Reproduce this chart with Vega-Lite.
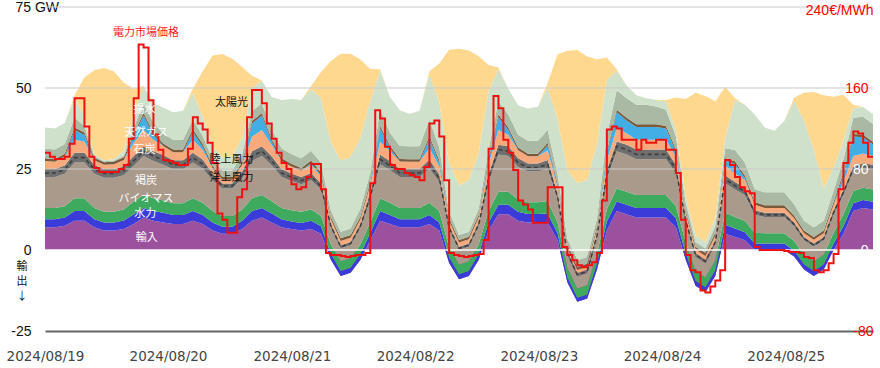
{
"$schema": "https://vega.github.io/schema/vega-lite/v6.json",
"width": 828, "height": 324,
"autosize": {"type": "none"},
"padding": {"left": 45, "top": 7, "right": 7, "bottom": 37},
"background": "white",
"config": {"view": {"stroke": null}, "font": "Liberation Sans"},
"datasets": {
"gen": [
{"t":"2024-08-19T00:00","imp":7,"hyd":2.5,"bio":3.5,"lig":9.5,"coal":2.5,"gas":2.5,"pump":0,"oth":0.8,"off":3,"on":6.5,"sol":0},
{"t":"2024-08-19T02:00","imp":7,"hyd":2.5,"bio":3.5,"lig":9.5,"coal":2.5,"gas":2.2,"pump":0,"oth":0.8,"off":3,"on":6.5,"sol":0},
{"t":"2024-08-19T04:00","imp":7.5,"hyd":2.5,"bio":3.5,"lig":10,"coal":2.6,"gas":2.5,"pump":0.3,"oth":0.8,"off":3,"on":6.5,"sol":0},
{"t":"2024-08-19T06:00","imp":9,"hyd":3,"bio":4,"lig":11,"coal":3,"gas":4,"pump":3,"oth":0.8,"off":3,"on":6,"sol":1},
{"t":"2024-08-19T08:00","imp":9,"hyd":3,"bio":4,"lig":11,"coal":3,"gas":3.5,"pump":2,"oth":0.8,"off":2,"on":3,"sol":12},
{"t":"2024-08-19T10:00","imp":7,"hyd":2.5,"bio":3.5,"lig":10.5,"coal":2.7,"gas":1.5,"pump":0,"oth":0.8,"off":0.5,"on":0.5,"sol":26},
{"t":"2024-08-19T12:00","imp":6,"hyd":2.5,"bio":3.3,"lig":10.5,"coal":2.7,"gas":1.3,"pump":0,"oth":0.8,"off":0.3,"on":0.3,"sol":28.5},
{"t":"2024-08-19T14:00","imp":6,"hyd":2.5,"bio":3.3,"lig":10.5,"coal":2.7,"gas":1.5,"pump":0,"oth":0.8,"off":0.3,"on":0.5,"sol":27},
{"t":"2024-08-19T16:00","imp":6.5,"hyd":2.6,"bio":3.5,"lig":10.5,"coal":2.7,"gas":2,"pump":0,"oth":0.8,"off":0.5,"on":1.5,"sol":21},
{"t":"2024-08-19T18:00","imp":8,"hyd":3,"bio":4,"lig":11,"coal":3,"gas":4,"pump":2,"oth":0.8,"off":2,"on":4,"sol":8},
{"t":"2024-08-19T20:00","imp":10,"hyd":3,"bio":4,"lig":12,"coal":3,"gas":5,"pump":4.5,"oth":0.8,"off":3,"on":5,"sol":0.3},
{"t":"2024-08-19T22:00","imp":9,"hyd":3,"bio":4,"lig":11.5,"coal":3,"gas":3.5,"pump":1.5,"oth":0.8,"off":3,"on":6,"sol":0},
{"t":"2024-08-20T00:00","imp":8.5,"hyd":3,"bio":3.8,"lig":11,"coal":3,"gas":2.8,"pump":0,"oth":0.8,"off":3,"on":8,"sol":0},
{"t":"2024-08-20T02:00","imp":8,"hyd":2.8,"bio":3.6,"lig":10.5,"coal":2.8,"gas":2.5,"pump":0,"oth":0.8,"off":3,"on":8.5,"sol":0},
{"t":"2024-08-20T04:00","imp":8,"hyd":2.8,"bio":3.6,"lig":10.5,"coal":2.8,"gas":2.5,"pump":0,"oth":0.8,"off":3,"on":9,"sol":0},
{"t":"2024-08-20T06:00","imp":9,"hyd":3,"bio":4,"lig":11,"coal":3,"gas":4,"pump":2.5,"oth":0.8,"off":3,"on":8,"sol":1.5},
{"t":"2024-08-20T08:00","imp":8,"hyd":2.8,"bio":3.8,"lig":10.5,"coal":2.8,"gas":3,"pump":1,"oth":0.8,"off":2.5,"on":6,"sol":14},
{"t":"2024-08-20T10:00","imp":6,"hyd":2.5,"bio":3.5,"lig":9.5,"coal":2.2,"gas":1.5,"pump":0,"oth":0.8,"off":2,"on":4,"sol":28},
{"t":"2024-08-20T12:00","imp":5,"hyd":2.2,"bio":3.3,"lig":8.5,"coal":1.5,"gas":1.2,"pump":0,"oth":0.8,"off":2,"on":4,"sol":32},
{"t":"2024-08-20T14:00","imp":5,"hyd":2.2,"bio":3.3,"lig":8.5,"coal":1.5,"gas":1.2,"pump":0,"oth":0.8,"off":2,"on":4.5,"sol":30},
{"t":"2024-08-20T16:00","imp":6.5,"hyd":2.5,"bio":3.5,"lig":9.5,"coal":2.2,"gas":2,"pump":0,"oth":0.8,"off":2.5,"on":5,"sol":22},
{"t":"2024-08-20T18:00","imp":9,"hyd":3,"bio":4,"lig":11.5,"coal":3,"gas":4.5,"pump":4,"oth":0.8,"off":3,"on":7,"sol":4},
{"t":"2024-08-20T20:00","imp":10,"hyd":3,"bio":4,"lig":12,"coal":3,"gas":5,"pump":4.5,"oth":0.8,"off":3,"on":7,"sol":0},
{"t":"2024-08-20T22:00","imp":8.5,"hyd":2.8,"bio":3.8,"lig":11,"coal":2.8,"gas":3.5,"pump":1,"oth":0.8,"off":3,"on":10,"sol":0},
{"t":"2024-08-21T00:00","imp":7,"hyd":2.5,"bio":3.5,"lig":9.5,"coal":2.5,"gas":2.5,"pump":0,"oth":0.8,"off":3,"on":15,"sol":0},
{"t":"2024-08-21T02:00","imp":6.5,"hyd":2.3,"bio":3.5,"lig":9,"coal":2.3,"gas":2.2,"pump":0,"oth":0.8,"off":3,"on":17,"sol":0},
{"t":"2024-08-21T04:00","imp":6,"hyd":2.3,"bio":3.5,"lig":8.5,"coal":2.2,"gas":2,"pump":0,"oth":0.8,"off":3,"on":18,"sol":0},
{"t":"2024-08-21T06:00","imp":6.5,"hyd":2.5,"bio":3.5,"lig":9,"coal":2.3,"gas":2.5,"pump":0.5,"oth":0.8,"off":3,"on":19,"sol":1},
{"t":"2024-08-21T08:00","imp":5,"hyd":2.3,"bio":3.3,"lig":8,"coal":2,"gas":2,"pump":0.5,"oth":0.8,"off":3,"on":20,"sol":8},
{"t":"2024-08-21T10:00","imp":-3,"hyd":1.8,"bio":3,"lig":5,"coal":1.2,"gas":1.5,"pump":0,"oth":0.8,"off":2,"on":21,"sol":25},
{"t":"2024-08-21T12:00","imp":-8,"hyd":1.5,"bio":3,"lig":4,"coal":1,"gas":1.3,"pump":0,"oth":0.8,"off":2,"on":22,"sol":33},
{"t":"2024-08-21T14:00","imp":-7,"hyd":1.5,"bio":3,"lig":4,"coal":1,"gas":1.3,"pump":0,"oth":0.8,"off":2,"on":22,"sol":32},
{"t":"2024-08-21T16:00","imp":-3,"hyd":1.8,"bio":3,"lig":5,"coal":1.2,"gas":1.5,"pump":0,"oth":0.8,"off":2.5,"on":22,"sol":24},
{"t":"2024-08-21T18:00","imp":3,"hyd":2.3,"bio":3.3,"lig":7,"coal":2,"gas":2.5,"pump":0,"oth":0.8,"off":3,"on":22,"sol":10},
{"t":"2024-08-21T20:00","imp":9,"hyd":3,"bio":4,"lig":10.5,"coal":3,"gas":4,"pump":4,"oth":0.8,"off":5,"on":12,"sol":0.5},
{"t":"2024-08-21T22:00","imp":8,"hyd":2.8,"bio":3.8,"lig":10,"coal":2.8,"gas":3,"pump":1,"oth":0.8,"off":4,"on":11,"sol":0},
{"t":"2024-08-22T00:00","imp":7,"hyd":2.5,"bio":3.5,"lig":9.5,"coal":2.5,"gas":2.3,"pump":0,"oth":0.8,"off":4,"on":11,"sol":0},
{"t":"2024-08-22T02:00","imp":7,"hyd":2.5,"bio":3.5,"lig":9.5,"coal":2.5,"gas":2.2,"pump":0,"oth":0.8,"off":4,"on":10,"sol":0},
{"t":"2024-08-22T04:00","imp":7,"hyd":2.5,"bio":3.5,"lig":9.5,"coal":2.5,"gas":2.2,"pump":0,"oth":0.8,"off":4,"on":11,"sol":0},
{"t":"2024-08-22T06:00","imp":8,"hyd":2.8,"bio":3.8,"lig":10.5,"coal":2.8,"gas":3.5,"pump":3,"oth":0.8,"off":5,"on":14,"sol":1},
{"t":"2024-08-22T08:00","imp":6,"hyd":2.5,"bio":3.5,"lig":9,"coal":2.3,"gas":2.5,"pump":1,"oth":0.8,"off":4,"on":14,"sol":12},
{"t":"2024-08-22T10:00","imp":-4,"hyd":1.8,"bio":3,"lig":5.5,"coal":1.2,"gas":1.5,"pump":0,"oth":0.8,"off":2,"on":15,"sol":35},
{"t":"2024-08-22T12:00","imp":-9,"hyd":1.5,"bio":3,"lig":4.5,"coal":1,"gas":1.3,"pump":0,"oth":0.8,"off":1.5,"on":15.5,"sol":42},
{"t":"2024-08-22T14:00","imp":-8,"hyd":1.5,"bio":3,"lig":4.5,"coal":1,"gas":1.3,"pump":0,"oth":0.8,"off":1.5,"on":16,"sol":40},
{"t":"2024-08-22T16:00","imp":-3,"hyd":1.8,"bio":3,"lig":5.5,"coal":1.2,"gas":1.5,"pump":0,"oth":0.8,"off":2,"on":17,"sol":30},
{"t":"2024-08-22T18:00","imp":6,"hyd":2.5,"bio":3.5,"lig":9,"coal":2.3,"gas":3,"pump":1,"oth":0.8,"off":3,"on":18,"sol":8},
{"t":"2024-08-22T20:00","imp":11,"hyd":3,"bio":4,"lig":11.5,"coal":3,"gas":4.5,"pump":4,"oth":0.8,"off":4,"on":10,"sol":0.5},
{"t":"2024-08-22T22:00","imp":11,"hyd":3,"bio":4,"lig":11,"coal":3,"gas":3.5,"pump":1.5,"oth":0.8,"off":4,"on":8,"sol":0},
{"t":"2024-08-23T00:00","imp":9,"hyd":2.8,"bio":3.8,"lig":10,"coal":2.7,"gas":2.5,"pump":0,"oth":0.8,"off":4,"on":9,"sol":0},
{"t":"2024-08-23T02:00","imp":8.5,"hyd":2.6,"bio":3.6,"lig":9.5,"coal":2.5,"gas":2.2,"pump":0,"oth":0.8,"off":4,"on":10,"sol":0},
{"t":"2024-08-23T04:00","imp":8.5,"hyd":2.6,"bio":3.6,"lig":9.5,"coal":2.5,"gas":2.2,"pump":0,"oth":0.8,"off":4,"on":10.5,"sol":0},
{"t":"2024-08-23T06:00","imp":8.5,"hyd":2.8,"bio":3.8,"lig":10,"coal":2.7,"gas":3,"pump":1.5,"oth":0.8,"off":4,"on":13,"sol":1.5},
{"t":"2024-08-23T08:00","imp":3,"hyd":2.2,"bio":3.3,"lig":7,"coal":1.8,"gas":2,"pump":0.3,"oth":0.8,"off":3,"on":17,"sol":20},
{"t":"2024-08-23T10:00","imp":-10,"hyd":1.5,"bio":3,"lig":4,"coal":1,"gas":1.2,"pump":0,"oth":0.8,"off":2,"on":21,"sol":37},
{"t":"2024-08-23T12:00","imp":-16,"hyd":1.3,"bio":2.8,"lig":3.8,"coal":1,"gas":1,"pump":0,"oth":0.8,"off":2,"on":24,"sol":41},
{"t":"2024-08-23T14:00","imp":-15,"hyd":1.3,"bio":2.8,"lig":3.8,"coal":1,"gas":1,"pump":0,"oth":0.8,"off":2,"on":24,"sol":38},
{"t":"2024-08-23T16:00","imp":-6,"hyd":1.8,"bio":3,"lig":5,"coal":1.2,"gas":1.5,"pump":0,"oth":0.8,"off":2.5,"on":23,"sol":26},
{"t":"2024-08-23T18:00","imp":6,"hyd":2.8,"bio":3.8,"lig":9.5,"coal":2.5,"gas":3,"pump":2,"oth":0.8,"off":5,"on":17,"sol":7},
{"t":"2024-08-23T20:00","imp":12,"hyd":3,"bio":4,"lig":11.5,"coal":3,"gas":4,"pump":5,"oth":0.8,"off":6,"on":6,"sol":0.5},
{"t":"2024-08-23T22:00","imp":11,"hyd":3,"bio":4,"lig":11.5,"coal":3,"gas":3.5,"pump":4,"oth":0.8,"off":6,"on":4,"sol":0},
{"t":"2024-08-24T00:00","imp":10,"hyd":3,"bio":4,"lig":11,"coal":3,"gas":3,"pump":4,"oth":0.8,"off":6,"on":3,"sol":0},
{"t":"2024-08-24T02:00","imp":10,"hyd":3,"bio":4,"lig":11,"coal":3,"gas":3,"pump":4,"oth":0.8,"off":6,"on":2,"sol":0},
{"t":"2024-08-24T04:00","imp":10,"hyd":3,"bio":4,"lig":11,"coal":3,"gas":3,"pump":4,"oth":0.8,"off":5.5,"on":2,"sol":0},
{"t":"2024-08-24T06:00","imp":10,"hyd":3,"bio":4,"lig":11,"coal":3,"gas":3,"pump":3.5,"oth":0.8,"off":5,"on":2.5,"sol":0.5},
{"t":"2024-08-24T08:00","imp":7,"hyd":2.8,"bio":3.8,"lig":10,"coal":2.7,"gas":2.5,"pump":1.5,"oth":0.8,"off":4,"on":2,"sol":10},
{"t":"2024-08-24T10:00","imp":-3,"hyd":2,"bio":3.3,"lig":6,"coal":1.5,"gas":1.5,"pump":0,"oth":0.8,"off":2.5,"on":2,"sol":30},
{"t":"2024-08-24T12:00","imp":-11,"hyd":1.5,"bio":3,"lig":4.5,"coal":1,"gas":1.2,"pump":0,"oth":0.8,"off":1.5,"on":2,"sol":44},
{"t":"2024-08-24T14:00","imp":-13,"hyd":1.5,"bio":3,"lig":4.5,"coal":1,"gas":1.2,"pump":0,"oth":0.8,"off":1.5,"on":2,"sol":45},
{"t":"2024-08-24T16:00","imp":-8,"hyd":1.8,"bio":3,"lig":5,"coal":1.2,"gas":1.5,"pump":0,"oth":0.8,"off":2,"on":2.5,"sol":36},
{"t":"2024-08-24T18:00","imp":5,"hyd":2.8,"bio":3.8,"lig":9,"coal":2.5,"gas":3,"pump":1.5,"oth":0.8,"off":3,"on":3,"sol":16},
{"t":"2024-08-24T20:00","imp":4,"hyd":2.6,"bio":3.6,"lig":8.5,"coal":2.3,"gas":2.6,"pump":3,"oth":0.8,"off":3.5,"on":15.5,"sol":0.5},
{"t":"2024-08-24T22:00","imp":3,"hyd":2.5,"bio":3.5,"lig":8,"coal":2.2,"gas":2.5,"pump":0.5,"oth":0.8,"off":4,"on":17.8,"sol":0},
{"t":"2024-08-25T00:00","imp":0,"hyd":2,"bio":3.3,"lig":5.5,"coal":1.5,"gas":1.7,"pump":0,"oth":0.8,"off":4,"on":23,"sol":0},
{"t":"2024-08-25T02:00","imp":0,"hyd":2,"bio":3.2,"lig":5,"coal":1.3,"gas":1.5,"pump":0,"oth":0.8,"off":4,"on":20,"sol":0},
{"t":"2024-08-25T04:00","imp":0,"hyd":2,"bio":3.2,"lig":5,"coal":1.3,"gas":1.5,"pump":0,"oth":0.8,"off":4,"on":19,"sol":0},
{"t":"2024-08-25T06:00","imp":0,"hyd":2,"bio":3.2,"lig":5,"coal":1.3,"gas":1.5,"pump":0,"oth":0.8,"off":4,"on":22,"sol":0},
{"t":"2024-08-25T08:00","imp":-2,"hyd":1.8,"bio":3,"lig":4.5,"coal":1.2,"gas":1.3,"pump":0,"oth":0.8,"off":3.5,"on":32,"sol":1},
{"t":"2024-08-25T10:00","imp":-6,"hyd":1.5,"bio":3,"lig":4.5,"coal":1,"gas":1.2,"pump":0,"oth":0.8,"off":3,"on":31,"sol":8.5},
{"t":"2024-08-25T12:00","imp":-8,"hyd":1.5,"bio":3,"lig":4.5,"coal":1,"gas":1.2,"pump":0,"oth":0.8,"off":3,"on":24,"sol":17.8},
{"t":"2024-08-25T14:00","imp":-6,"hyd":1.5,"bio":3,"lig":4.5,"coal":1,"gas":1.2,"pump":0,"oth":0.8,"off":3,"on":10,"sol":28.8},
{"t":"2024-08-25T16:00","imp":0,"hyd":2,"bio":3.3,"lig":5.5,"coal":1.5,"gas":1.7,"pump":0,"oth":0.8,"off":3.5,"on":7,"sol":22},
{"t":"2024-08-25T18:00","imp":5,"hyd":2.3,"bio":3.7,"lig":6,"coal":1.6,"gas":2.5,"pump":2,"oth":0.8,"off":4,"on":6,"sol":14},
{"t":"2024-08-25T20:00","imp":12,"hyd":2.4,"bio":3.8,"lig":6,"coal":1.6,"gas":3.2,"pump":6,"oth":0.8,"off":5,"on":3,"sol":1},
{"t":"2024-08-25T22:00","imp":13,"hyd":2.4,"bio":3.8,"lig":6,"coal":1.6,"gas":3,"pump":5,"oth":0.8,"off":5.5,"on":3,"sol":0},
{"t":"2024-08-26T00:00","imp":12.5,"hyd":2.4,"bio":3.8,"lig":6,"coal":1.6,"gas":2.8,"pump":3.5,"oth":0.8,"off":5.5,"on":3,"sol":0}
],
"price": [
{"t":"2024-08-19T00:00","p":96},{"t":"2024-08-19T01:00","p":92},{"t":"2024-08-19T02:00","p":90},{"t":"2024-08-19T03:00","p":90},{"t":"2024-08-19T04:00","p":92},{"t":"2024-08-19T05:00","p":105},{"t":"2024-08-19T06:00","p":150},{"t":"2024-08-19T07:00","p":150},{"t":"2024-08-19T08:00","p":122},{"t":"2024-08-19T09:00","p":92},{"t":"2024-08-19T10:00","p":81},{"t":"2024-08-19T11:00","p":77},{"t":"2024-08-19T12:00","p":77},{"t":"2024-08-19T13:00","p":77},{"t":"2024-08-19T14:00","p":77},{"t":"2024-08-19T15:00","p":80},{"t":"2024-08-19T16:00","p":84},{"t":"2024-08-19T17:00","p":110},{"t":"2024-08-19T18:00","p":150},{"t":"2024-08-19T19:00","p":203},{"t":"2024-08-19T20:00","p":200},{"t":"2024-08-19T21:00","p":148},{"t":"2024-08-19T22:00","p":114},{"t":"2024-08-19T23:00","p":99},
{"t":"2024-08-20T00:00","p":89},{"t":"2024-08-20T01:00","p":88},{"t":"2024-08-20T02:00","p":86},{"t":"2024-08-20T03:00","p":84},{"t":"2024-08-20T04:00","p":84},{"t":"2024-08-20T05:00","p":100},{"t":"2024-08-20T06:00","p":131},{"t":"2024-08-20T07:00","p":125},{"t":"2024-08-20T08:00","p":119},{"t":"2024-08-20T09:00","p":106},{"t":"2024-08-20T10:00","p":86},{"t":"2024-08-20T11:00","p":36},{"t":"2024-08-20T12:00","p":30},{"t":"2024-08-20T13:00","p":17},{"t":"2024-08-20T14:00","p":17},{"t":"2024-08-20T15:00","p":52},{"t":"2024-08-20T16:00","p":60},{"t":"2024-08-20T17:00","p":131},{"t":"2024-08-20T18:00","p":158},{"t":"2024-08-20T19:00","p":158},{"t":"2024-08-20T20:00","p":145},{"t":"2024-08-20T21:00","p":125},{"t":"2024-08-20T22:00","p":110},{"t":"2024-08-20T23:00","p":96},
{"t":"2024-08-21T00:00","p":86},{"t":"2024-08-21T01:00","p":80},{"t":"2024-08-21T02:00","p":65},{"t":"2024-08-21T03:00","p":60},{"t":"2024-08-21T04:00","p":62},{"t":"2024-08-21T05:00","p":72},{"t":"2024-08-21T06:00","p":85},{"t":"2024-08-21T07:00","p":85},{"t":"2024-08-21T08:00","p":60},{"t":"2024-08-21T09:00","p":-3},{"t":"2024-08-21T10:00","p":-5},{"t":"2024-08-21T11:00","p":-5},{"t":"2024-08-21T12:00","p":-6},{"t":"2024-08-21T13:00","p":-7},{"t":"2024-08-21T14:00","p":-6},{"t":"2024-08-21T15:00","p":-5},{"t":"2024-08-21T16:00","p":-5},{"t":"2024-08-21T17:00","p":-3},{"t":"2024-08-21T18:00","p":66},{"t":"2024-08-21T19:00","p":138},{"t":"2024-08-21T20:00","p":130},{"t":"2024-08-21T21:00","p":102},{"t":"2024-08-21T22:00","p":84},{"t":"2024-08-21T23:00","p":80},
{"t":"2024-08-22T00:00","p":80},{"t":"2024-08-22T01:00","p":76},{"t":"2024-08-22T02:00","p":74},{"t":"2024-08-22T03:00","p":72},{"t":"2024-08-22T04:00","p":69},{"t":"2024-08-22T05:00","p":82},{"t":"2024-08-22T06:00","p":125},{"t":"2024-08-22T07:00","p":128},{"t":"2024-08-22T08:00","p":112},{"t":"2024-08-22T09:00","p":69},{"t":"2024-08-22T10:00","p":-3},{"t":"2024-08-22T11:00","p":-5},{"t":"2024-08-22T12:00","p":-6},{"t":"2024-08-22T13:00","p":-7},{"t":"2024-08-22T14:00","p":-6},{"t":"2024-08-22T15:00","p":-5},{"t":"2024-08-22T16:00","p":-4},{"t":"2024-08-22T17:00","p":10},{"t":"2024-08-22T18:00","p":100},{"t":"2024-08-22T19:00","p":152},{"t":"2024-08-22T20:00","p":140},{"t":"2024-08-22T21:00","p":109},{"t":"2024-08-22T22:00","p":96},{"t":"2024-08-22T23:00","p":79},
{"t":"2024-08-23T00:00","p":49},{"t":"2024-08-23T01:00","p":45},{"t":"2024-08-23T02:00","p":40},{"t":"2024-08-23T03:00","p":27},{"t":"2024-08-23T04:00","p":27},{"t":"2024-08-23T05:00","p":27},{"t":"2024-08-23T06:00","p":62},{"t":"2024-08-23T07:00","p":62},{"t":"2024-08-23T08:00","p":62},{"t":"2024-08-23T09:00","p":3},{"t":"2024-08-23T10:00","p":-5},{"t":"2024-08-23T11:00","p":-10},{"t":"2024-08-23T12:00","p":-15},{"t":"2024-08-23T13:00","p":-17},{"t":"2024-08-23T14:00","p":-15},{"t":"2024-08-23T15:00","p":-12},{"t":"2024-08-23T16:00","p":-3},{"t":"2024-08-23T17:00","p":49},{"t":"2024-08-23T18:00","p":119},{"t":"2024-08-23T19:00","p":122},{"t":"2024-08-23T20:00","p":120},{"t":"2024-08-23T21:00","p":109},{"t":"2024-08-23T22:00","p":109},{"t":"2024-08-23T23:00","p":109},
{"t":"2024-08-24T00:00","p":99},{"t":"2024-08-24T01:00","p":109},{"t":"2024-08-24T02:00","p":106},{"t":"2024-08-24T03:00","p":106},{"t":"2024-08-24T04:00","p":109},{"t":"2024-08-24T05:00","p":109},{"t":"2024-08-24T06:00","p":99},{"t":"2024-08-24T07:00","p":99},{"t":"2024-08-24T08:00","p":76},{"t":"2024-08-24T09:00","p":30},{"t":"2024-08-24T10:00","p":-5},{"t":"2024-08-24T11:00","p":-20},{"t":"2024-08-24T12:00","p":-22},{"t":"2024-08-24T13:00","p":-40},{"t":"2024-08-24T14:00","p":-42},{"t":"2024-08-24T15:00","p":-36},{"t":"2024-08-24T16:00","p":-30},{"t":"2024-08-24T17:00","p":-20},{"t":"2024-08-24T18:00","p":89},{"t":"2024-08-24T19:00","p":84},{"t":"2024-08-24T20:00","p":72},{"t":"2024-08-24T21:00","p":62},{"t":"2024-08-24T22:00","p":58},{"t":"2024-08-24T23:00","p":56},
{"t":"2024-08-25T00:00","p":3},{"t":"2024-08-25T01:00","p":0},{"t":"2024-08-25T02:00","p":0},{"t":"2024-08-25T03:00","p":0},{"t":"2024-08-25T04:00","p":0},{"t":"2024-08-25T05:00","p":0},{"t":"2024-08-25T06:00","p":-1},{"t":"2024-08-25T07:00","p":-2},{"t":"2024-08-25T08:00","p":-2},{"t":"2024-08-25T09:00","p":-3},{"t":"2024-08-25T10:00","p":-7},{"t":"2024-08-25T11:00","p":-8},{"t":"2024-08-25T12:00","p":-20},{"t":"2024-08-25T13:00","p":-22},{"t":"2024-08-25T14:00","p":-20},{"t":"2024-08-25T15:00","p":-13},{"t":"2024-08-25T16:00","p":-4},{"t":"2024-08-25T17:00","p":60},{"t":"2024-08-25T18:00","p":86},{"t":"2024-08-25T19:00","p":106},{"t":"2024-08-25T20:00","p":117},{"t":"2024-08-25T21:00","p":115},{"t":"2024-08-25T22:00","p":106},{"t":"2024-08-25T23:00","p":92},{"t":"2024-08-26T00:00","p":92}
],
"labels": [
{"txt":"電力市場価格","t":"2024-08-19T20:30","y":67},
{"txt":"太陽光","t":"2024-08-20T13:50","y":45.4},
{"txt":"陸上風力","t":"2024-08-20T13:50","y":27.8},
{"txt":"洋上風力","t":"2024-08-20T13:50","y":22.2},
{"txt":"揚水","t":"2024-08-19T20:10","y":43.2},
{"txt":"天然ガス","t":"2024-08-19T20:30","y":36.1},
{"txt":"石炭","t":"2024-08-19T20:10","y":30.9},
{"txt":"褐炭","t":"2024-08-19T20:30","y":21.3},
{"txt":"バイオマス","t":"2024-08-19T20:30","y":15.8},
{"txt":"水力","t":"2024-08-19T20:20","y":11.0},
{"txt":"輸入","t":"2024-08-19T20:40","y":3.7}
]
},
"layer": [
{
"data": {"name": "gen"},
"transform": [
{"fold": ["imp","hyd","bio","lig","coal","gas","pump","oth","off","on","sol"], "as": ["src","v"]},
{"calculate": "indexof(['imp','hyd','bio','lig','coal','gas','pump','oth','off','on','sol'], datum.src)", "as": "k"},
{"window": [{"op": "sum", "field": "v", "as": "hi"}], "groupby": ["t"], "sort": [{"field": "k", "order": "ascending"}], "frame": [null, 0]},
{"calculate": "datum.hi - datum.v", "as": "lo"}
],
"mark": {"type": "area", "interpolate": "linear"},
"encoding": {
"x": {"field": "t", "type": "temporal",
"scale": {"domain": [{"year":2024,"month":8,"date":19,"hours":0}, {"year":2024,"month":8,"date":26,"hours":0}]},
"axis": {"title": null, "format": "%Y/%m/%d", "ticks": false, "grid": false, "domain": true, "domainColor": "#666666", "domainWidth": 2,
"labelFont": "DejaVu Sans", "labelFontSize": 13.5, "labelColor": "#444444", "labelPadding": 18, "labelFlush": false, "labelOverlap": false,
"values": [{"year":2024,"month":8,"date":19,"hours":0}, {"year":2024,"month":8,"date":20,"hours":0,"minutes":57}, {"year":2024,"month":8,"date":21,"hours":2,"minutes":6}, {"year":2024,"month":8,"date":22,"hours":3,"minutes":6}, {"year":2024,"month":8,"date":23,"hours":4,"minutes":12}, {"year":2024,"month":8,"date":24,"hours":5,"minutes":12}, {"year":2024,"month":8,"date":25,"hours":6,"minutes":18}]}},
"y": {"field": "hi", "type": "quantitative", "scale": {"domain": [-25, 75], "nice": false, "zero": false},
"axis": {"title": null, "values": [-25, 0, 25, 50, 75], "ticks": false, "domain": false, "grid": false,
"labelFont": "Liberation Sans", "labelFontSize": 14, "labelColor": "#111111",
"labelExpr": "datum.value == 75 ? '75 GW' : (datum.value == -25 ? '-25' : datum.label)",
"labelAlign": {"condition": {"test": "datum.value == 75", "value": "left"}, "value": "right"},
"labelPadding": {"condition": {"test": "datum.value == 75", "value": 30}, "value": 14}}},
"y2": {"field": "lo"},
"color": {"field": "src", "type": "nominal", "legend": null,
"scale": {"domain": ["imp","hyd","bio","lig","coal","gas","pump","oth","off","on","sol"],
"range": ["#9b519d","#3b3bd9","#3daa5e","#a99a8c","#6f6f6f","#f7ab7d","#41aee6","#7b5a3c","#a9b9a3","#cfe0cb","#fed88e"]}}
}
},
{
"data": {"name": "gen"},
"transform": [
{"fold": ["imp","hyd","bio","lig","coal"], "as": ["src","v"]},
{"calculate": "indexof(['imp','hyd','bio','lig','coal'], datum.src)", "as": "k"},
{"window": [{"op": "sum", "field": "v", "as": "hi"}], "groupby": ["t"], "sort": [{"field": "k", "order": "ascending"}], "frame": [null, 0]},
{"filter": "datum.src == 'coal'"},
{"calculate": "datum.hi - datum.v / 2", "as": "mid"}
],
"mark": {"type": "line", "interpolate": "linear", "color": "#3f3f3f", "strokeWidth": 1.6, "strokeDash": [4, 3]},
"encoding": {
"x": {"field": "t", "type": "temporal"},
"y": {"field": "mid", "type": "quantitative", "scale": {"domain": [-25, 75], "nice": false, "zero": false}, "axis": null}
}
},
{
"data": {"values": [{"g": 25}, {"g": 50}, {"g": 75}, {"g": 0}]},
"mark": {"type": "rule", "strokeWidth": 1.5},
"encoding": {
"y": {"field": "g", "type": "quantitative", "scale": {"domain": [-25, 75], "nice": false, "zero": false}, "axis": null},
"color": {"condition": {"test": "datum.g == 0", "value": "#ffffff"}, "value": "#cccccc"},
"opacity": {"condition": {"test": "datum.g == 0", "value": 1}, "value": 0.7}
}
},
{
"data": {"name": "price"},
"mark": {"type": "line", "interpolate": "step-after", "color": "#ee1111", "strokeWidth": 2},
"encoding": {
"x": {"field": "t", "type": "temporal"},
"y": {"field": "p", "type": "quantitative", "scale": {"domain": [-80, 240], "nice": false, "zero": false},
"axis": {"orient": "right", "title": null, "values": [-80, 0, 80, 160, 240], "ticks": false, "domain": false, "grid": false, "zindex": 1,
"labelFont": "Liberation Sans", "labelFontSize": 14, "labelAlign": "right",
"labelExpr": "datum.value == 240 ? '240€/MWh' : (datum.value == -80 ? '-80' : datum.label)",
"labelPadding": {"condition": {"test": "datum.value == 240 || datum.value == -80", "value": 0}, "value": -5},
"labelOffset": {"condition": {"test": "datum.value == 240", "value": 3}, "value": 0},
"labelColor": {"condition": {"test": "datum.value == 0 || datum.value == 80", "value": "#ffffff"}, "value": "#ff0000"}}}
}
},
{
"data": {"name": "labels"},
"mark": {"type": "text", "font": "Noto Sans CJK JP", "fontSize": 11, "align": "center", "baseline": "middle"},
"encoding": {
"x": {"field": "t", "type": "temporal"},
"y": {"field": "y", "type": "quantitative", "scale": {"domain": [-25, 75], "nice": false, "zero": false}, "axis": null},
"text": {"field": "txt"},
"color": {"condition": [
{"test": "datum.txt == '電力市場価格'", "value": "#ff1a1a"},
{"test": "indexof(['太陽光','陸上風力','洋上風力'], datum.txt) >= 0", "value": "#111111"}
], "value": "#ffffff"}
}
},
{
"data": {"values": [{"txt": "輸\n出\n↓", "t": "2024-08-19T00:00", "y": 0}]},
"mark": {"type": "text", "font": "Noto Sans CJK JP", "fontSize": 11, "align": "center", "baseline": "top", "lineBreak": "\n", "lineHeight": 15, "dx": -23, "dy": 11, "color": "#111111"},
"encoding": {
"x": {"field": "t", "type": "temporal"},
"y": {"field": "y", "type": "quantitative", "scale": {"domain": [-25, 75], "nice": false, "zero": false}, "axis": null},
"text": {"field": "txt"}
}
}
],
"resolve": {"scale": {"y": "independent"}}
}
